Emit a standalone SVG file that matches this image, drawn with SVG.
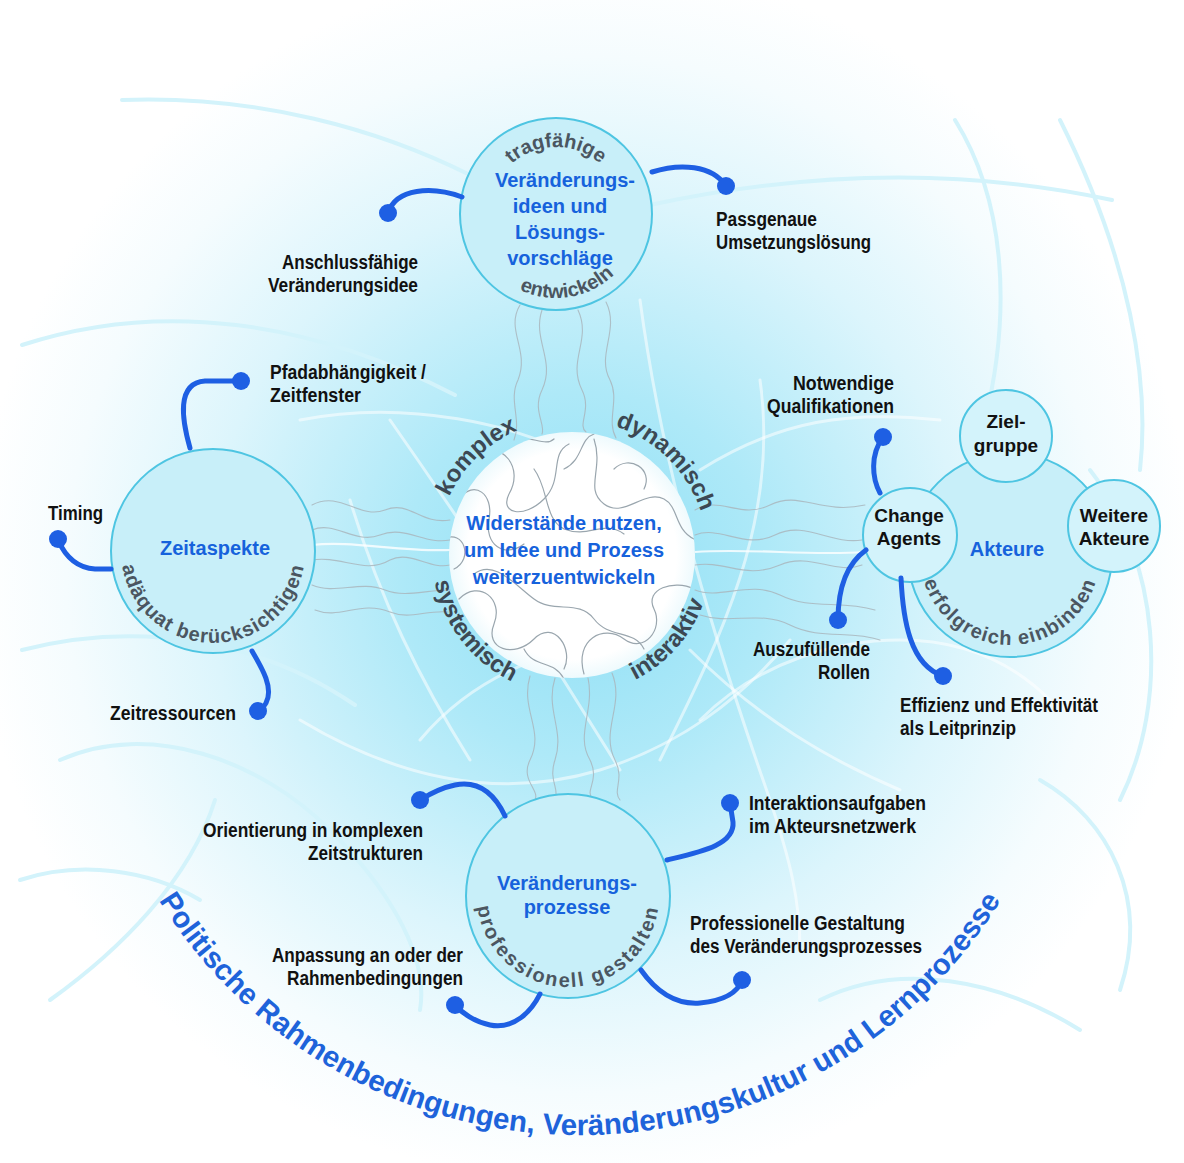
<svg xmlns="http://www.w3.org/2000/svg" width="1184" height="1163" viewBox="0 0 1184 1163">
<defs>
<radialGradient id="bgG" cx="585" cy="575" r="610" gradientUnits="userSpaceOnUse">
<stop offset="0" stop-color="#8edff5"/>
<stop offset="0.3" stop-color="#aee9f8"/>
<stop offset="0.62" stop-color="#dcf5fc"/>
<stop offset="0.85" stop-color="#f5fcfe"/>
<stop offset="1" stop-color="#ffffff"/>
</radialGradient>
<radialGradient id="cG" cx="0.5" cy="0.5" r="0.5">
<stop offset="0.85" stop-color="#ffffff"/>
<stop offset="1" stop-color="#eefafd"/>
</radialGradient>
<clipPath id="cClip"><circle cx="572" cy="555" r="123"/></clipPath>
<path id="arcTop" d="M436,555 A136,136 0 0 1 708,555"/>
<path id="arcBot" d="M432,555 A140,140 0 0 0 712,555"/>
<path id="tTop" d="M489,214 A67,67 0 0 1 623,214"/>
<path id="tBot" d="M472,214 A84,84 0 0 0 640,214"/>
<path id="lBot" d="M121,551 A92,92 0 0 0 305,551"/>
<path id="aBot" d="M920,555 A90,90 0 0 0 1100,555"/>
<path id="bBot" d="M477,896 A91,91 0 0 0 659,896"/>
<path id="outer" d="M114.8,809.3 A495,495 0 0 0 1045.2,809.3"/>
<style>
.node{fill:#c8eff9;stroke:#4ec5e2;stroke-width:2}
.sub{fill:#d3f3fb;stroke:#4ec5e2;stroke-width:2}
.title{font-family:"Liberation Sans",Arial,sans-serif;font-weight:bold;font-size:20px;fill:#1662dc;text-anchor:middle}
.arc{font-family:"Liberation Sans",Arial,sans-serif;font-weight:bold;font-size:20px;fill:#4b5661}
.carc{font-family:"Liberation Sans",Arial,sans-serif;font-weight:bold;font-size:24px;fill:#3c4853}
.lb{font-family:"Liberation Sans",Arial,sans-serif;font-weight:bold;font-size:20px;fill:#111111}
.nb{font-family:"Liberation Sans",Arial,sans-serif;font-weight:bold;font-size:19px;fill:#111111;text-anchor:middle}
.con{fill:none;stroke:#1e5fe3;stroke-width:5;stroke-linecap:round}
.dot{fill:#1e5fe3}
.deco{fill:none;stroke:#d3f3fb;stroke-width:4;stroke-linecap:round}
.decw{fill:none;stroke:#ffffff;stroke-opacity:0.55;stroke-width:3;stroke-linecap:round}
.topo{fill:none;stroke:#9aa6ae;stroke-width:1.2;stroke-linecap:round}
.topa{fill:none;stroke:#a9b6bd;stroke-width:1.1;stroke-linecap:round;stroke-opacity:0.85}
.topw{fill:none;stroke:#ffffff;stroke-opacity:0.8;stroke-width:2.2}
.outer{font-family:"Liberation Sans",Arial,sans-serif;font-weight:bold;font-size:29.5px;fill:#1e63da}
</style>
</defs>

<g id="background">
<rect x="0" y="0" width="1184" height="1163" fill="#ffffff"/>
<circle cx="585" cy="575" r="610" fill="url(#bgG)"/>
</g>

<g id="decoration">
<path class="deco" d="M122,100 C260,95 380,130 470,175"/>
<path class="deco" d="M650,205 C790,175 950,165 1112,200"/>
<path class="deco" d="M955,120 C1005,200 1012,310 985,420"/>
<path class="deco" d="M1060,120 C1130,260 1150,380 1140,470"/>
<path class="deco" d="M22,345 C160,300 310,320 455,395"/>
<path class="deco" d="M22,650 C140,620 260,640 355,705"/>
<path class="deco" d="M50,1000 C120,950 190,880 215,800"/>
<path class="deco" d="M1090,470 C1160,560 1170,700 1120,800"/>
<path class="deco" d="M1040,780 C1110,820 1150,900 1120,990"/>
<path class="deco" d="M60,760 C150,720 260,760 330,830 C380,880 430,950 420,1010"/>
<path class="deco" d="M820,1000 C900,960 1000,980 1080,1030"/>
<path class="deco" d="M20,880 C80,860 150,870 200,900"/>
<path class="decw" d="M390,420 C460,520 540,640 620,770"/>
<path class="decw" d="M300,720 C400,780 500,800 600,770 C680,745 740,700 790,640"/>
<path class="decw" d="M640,300 C660,450 700,600 770,800 C790,860 800,900 800,950"/>
<path class="decw" d="M300,420 C400,400 520,420 600,470"/>
<path class="decw" d="M700,470 C780,420 850,410 940,420"/>
<path class="decw" d="M690,650 C760,720 830,760 900,790"/>
<path class="decw" d="M350,500 C380,600 420,680 470,760"/>
<path class="decw" d="M760,380 C780,520 720,640 660,760"/>
<path class="decw" d="M420,740 C470,680 540,650 620,640"/>
<path class="decw" d="M700,720 C760,660 840,640 900,640 C960,640 1010,660 1050,700"/>
</g>

<g id="topography">
<path class="topa" d="M312,505 C340,490 360,520 385,510 C410,500 420,525 450,520"/>
<path class="topa" d="M312,530 C335,520 355,545 380,535 C405,525 425,545 450,540"/>
<path class="topa" d="M312,560 C340,555 365,575 390,560 C410,550 430,570 450,565"/>
<path class="topa" d="M312,585 C335,595 360,580 385,590 C405,598 425,590 450,590"/>
<path class="topa" d="M315,610 C340,620 360,600 390,612 C410,620 425,610 448,612"/>
<path class="topw" d="M312,545 C350,540 400,552 450,550"/>
<path class="topa" d="M695,510 C720,495 740,520 770,505 C800,490 820,515 865,505"/>
<path class="topa" d="M695,535 C720,525 745,550 775,535 C805,520 830,545 862,540"/>
<path class="topa" d="M695,565 C725,560 745,580 780,565 C810,552 835,575 862,565"/>
<path class="topa" d="M695,590 C720,600 750,580 780,595 C810,610 840,600 875,610"/>
<path class="topa" d="M700,615 C730,625 760,610 790,625 C820,640 850,630 880,640"/>
<path class="topw" d="M695,552 C750,548 810,556 864,552"/>
<path class="topa" d="M520,305 C505,330 530,350 518,380 C508,400 522,420 514,440"/>
<path class="topa" d="M542,310 C532,340 556,360 542,390 C532,410 546,425 542,434"/>
<path class="topa" d="M578,310 C592,340 567,360 582,390 C592,410 577,425 586,432"/>
<path class="topa" d="M606,302 C620,330 596,355 610,380 C620,400 606,420 616,438"/>
<path class="topa" d="M530,676 C520,710 545,730 530,760 C520,780 540,790 535,800"/>
<path class="topa" d="M555,678 C545,710 565,730 555,760 C548,780 560,790 555,798"/>
<path class="topa" d="M588,678 C595,710 575,735 590,760 C600,780 585,790 592,798"/>
<path class="topa" d="M612,673 C625,705 600,730 615,760 C625,780 612,790 620,800"/>
</g>

<g id="node-center">
<circle cx="572" cy="555" r="123" fill="url(#cG)"/>
<g clip-path="url(#cClip)">
<g transform="translate(4,-1)">
<path class="topo" d="M455,500 C470,480 490,495 485,520 C480,545 500,560 520,545"/>
<path class="topo" d="M470,455 C500,440 520,470 505,495 C495,515 520,520 540,500 C560,480 545,455 565,445"/>
<path class="topo" d="M590,440 C600,470 580,490 600,505 C620,520 640,490 660,500 C675,508 670,530 690,540"/>
<path class="topo" d="M610,470 C625,455 650,470 640,490"/>
<path class="topo" d="M455,600 C475,580 500,600 490,625 C480,650 510,660 530,640 C550,620 570,650 560,670"/>
<path class="topo" d="M580,675 C570,640 600,625 620,640 C640,655 660,630 650,610 C640,590 670,580 690,590"/>
<path class="topo" d="M530,470 C545,490 540,520 560,530 C585,540 600,520 620,535"/>
<path class="topo" d="M470,575 C490,560 510,585 530,600 C550,615 575,600 590,620 C605,640 630,630 640,650"/>
<path class="topo" d="M640,455 C660,470 680,470 690,490"/>
<path class="topo" d="M500,445 C520,430 540,450 550,440"/>
<path class="topo" d="M520,650 C530,670 550,660 560,680"/>
<path class="topo" d="M440,540 C460,530 470,560 450,570"/>
<path class="topo" d="M690,600 C670,620 680,640 660,660"/>
<path class="topo" d="M560,470 C580,460 575,440 590,435"/>
</g>
</g>
<text class="title" x="564" y="530">Widerstände nutzen,</text>
<text class="title" x="564" y="557">um Idee und Prozess</text>
<text class="title" x="564" y="584">weiterzuentwickeln</text>
<text class="carc"><textPath href="#arcTop" startOffset="25.5%" text-anchor="middle">komplex</textPath></text>
<text class="carc"><textPath href="#arcTop" startOffset="75%" text-anchor="middle">dynamisch</textPath></text>
<text class="carc"><textPath href="#arcBot" startOffset="21%" text-anchor="middle">systemisch</textPath></text>
<text class="carc"><textPath href="#arcBot" startOffset="77%" text-anchor="middle">interaktiv</textPath></text>
</g>

<g id="node-ideen">
<circle class="node" cx="556" cy="214" r="96"/>
<text class="arc" font-size="19"><textPath href="#tTop" startOffset="50%" text-anchor="middle">tragfähige</textPath></text>
<text class="title" x="565" y="187">Veränderungs-</text>
<text class="title" x="560" y="213">ideen und</text>
<text class="title" x="560" y="239">Lösungs-</text>
<text class="title" x="560" y="265">vorschläge</text>
<text class="arc" font-size="19"><textPath href="#tBot" startOffset="55%" text-anchor="middle">entwickeln</textPath></text>
</g>

<g id="node-zeit">
<circle class="node" cx="213" cy="551" r="102"/>
<text class="title" x="215" y="555">Zeitaspekte</text>
<text class="arc" font-size="21" letter-spacing="1"><textPath href="#lBot" startOffset="50%" text-anchor="middle">adäquat berücksichtigen</textPath></text>
</g>

<g id="node-akteure">
<circle class="node" cx="1010" cy="555" r="102"/>
<text class="title" x="1007" y="556">Akteure</text>
<text class="arc" letter-spacing="1.2"><textPath href="#aBot" startOffset="50%" text-anchor="middle">erfolgreich einbinden</textPath></text>
</g>
<g id="node-zielgruppe">
<circle class="sub" cx="1006" cy="436" r="46"/>
<text class="nb" x="1006" y="428">Ziel-</text>
<text class="nb" x="1006" y="452">gruppe</text>
</g>
<g id="node-change">
<circle class="sub" cx="910" cy="535" r="47"/>
<text class="nb" x="909" y="522">Change</text>
<text class="nb" x="909" y="545">Agents</text>
</g>
<g id="node-weitere">
<circle class="sub" cx="1114" cy="526" r="46"/>
<text class="nb" x="1114" y="522">Weitere</text>
<text class="nb" x="1114" y="545">Akteure</text>
</g>

<g id="node-prozesse">
<circle class="node" cx="568" cy="896" r="102"/>
<text class="title" x="567" y="890">Veränderungs-</text>
<text class="title" x="567" y="914">prozesse</text>
<text class="arc" letter-spacing="2"><textPath href="#bBot" startOffset="50%" text-anchor="middle">professionell gestalten</textPath></text>
</g>

<g id="connectors">
<path class="con" d="M462,197 C432,186 396,188 388,213"/>
<circle class="dot" cx="388" cy="213" r="9"/>
<path class="con" d="M652,172 C680,163 712,165 726,186"/>
<circle class="dot" cx="726" cy="186" r="9"/>
<path class="con" d="M190,448 C182,420 176,383 205,381 L241,381"/>
<circle class="dot" cx="241" cy="381" r="9"/>
<path class="con" d="M111,569 L95,569 C78,568 66,558 58,540"/>
<circle class="dot" cx="58" cy="539" r="9"/>
<path class="con" d="M252,651 C262,668 274,688 266,703 C264,707 261,709 258,711"/>
<circle class="dot" cx="258" cy="711" r="9"/>
<path class="con" d="M880,493 C872,478 870,455 883,437"/>
<circle class="dot" cx="883" cy="437" r="9"/>
<path class="con" d="M866,550 C845,565 838,590 838,620"/>
<circle class="dot" cx="838" cy="620" r="9"/>
<path class="con" d="M901,578 C903,620 910,665 943,676"/>
<circle class="dot" cx="943" cy="676" r="9"/>
<path class="con" d="M505,816 C495,795 480,780 455,785 C440,788 428,795 420,800"/>
<circle class="dot" cx="420" cy="800" r="9"/>
<path class="con" d="M667,860 C700,852 735,845 733,822 L730,803"/>
<circle class="dot" cx="730" cy="803" r="9"/>
<path class="con" d="M540,994 C532,1010 515,1030 490,1025 C475,1022 462,1013 455,1005"/>
<circle class="dot" cx="455" cy="1005" r="9"/>
<path class="con" d="M641,970 C655,990 675,1005 700,1003 C720,1001 737,995 742,980"/>
<circle class="dot" cx="742" cy="980" r="9"/>
</g>

<g id="labels">
<text class="lb" x="282" y="269" textLength="136" lengthAdjust="spacingAndGlyphs">Anschlussfähige</text>
<text class="lb" x="268" y="292" textLength="150" lengthAdjust="spacingAndGlyphs">Veränderungsidee</text>
<text class="lb" x="716" y="226" textLength="101" lengthAdjust="spacingAndGlyphs">Passgenaue</text>
<text class="lb" x="716" y="249" textLength="155" lengthAdjust="spacingAndGlyphs">Umsetzungslösung</text>
<text class="lb" x="270" y="379" textLength="156" lengthAdjust="spacingAndGlyphs">Pfadabhängigkeit /</text>
<text class="lb" x="270" y="402" textLength="91" lengthAdjust="spacingAndGlyphs">Zeitfenster</text>
<text class="lb" x="48" y="520" textLength="55" lengthAdjust="spacingAndGlyphs">Timing</text>
<text class="lb" x="110" y="720" textLength="126" lengthAdjust="spacingAndGlyphs">Zeitressourcen</text>
<text class="lb" x="793" y="390" textLength="101" lengthAdjust="spacingAndGlyphs">Notwendige</text>
<text class="lb" x="767" y="413" textLength="127" lengthAdjust="spacingAndGlyphs">Qualifikationen</text>
<text class="lb" x="753" y="656" textLength="117" lengthAdjust="spacingAndGlyphs">Auszufüllende</text>
<text class="lb" x="818" y="679" textLength="52" lengthAdjust="spacingAndGlyphs">Rollen</text>
<text class="lb" x="900" y="712" textLength="198" lengthAdjust="spacingAndGlyphs">Effizienz und Effektivität</text>
<text class="lb" x="900" y="735" textLength="116" lengthAdjust="spacingAndGlyphs">als Leitprinzip</text>
<text class="lb" x="203" y="837" textLength="220" lengthAdjust="spacingAndGlyphs">Orientierung in komplexen</text>
<text class="lb" x="308" y="860" textLength="115" lengthAdjust="spacingAndGlyphs">Zeitstrukturen</text>
<text class="lb" x="749" y="810" textLength="177" lengthAdjust="spacingAndGlyphs">Interaktionsaufgaben</text>
<text class="lb" x="749" y="833" textLength="167" lengthAdjust="spacingAndGlyphs">im Akteursnetzwerk</text>
<text class="lb" x="272" y="962" textLength="191" lengthAdjust="spacingAndGlyphs">Anpassung an oder der</text>
<text class="lb" x="287" y="985" textLength="176" lengthAdjust="spacingAndGlyphs">Rahmenbedingungen</text>
<text class="lb" x="690" y="930" textLength="215" lengthAdjust="spacingAndGlyphs">Professionelle Gestaltung</text>
<text class="lb" x="690" y="953" textLength="232" lengthAdjust="spacingAndGlyphs">des Veränderungsprozesses</text>
</g>

<g id="frame-text">
<text class="outer"><textPath href="#outer" startOffset="50%" text-anchor="middle">Politische Rahmenbedingungen, Veränderungskultur und Lernprozesse</textPath></text>
</g>
</svg>
